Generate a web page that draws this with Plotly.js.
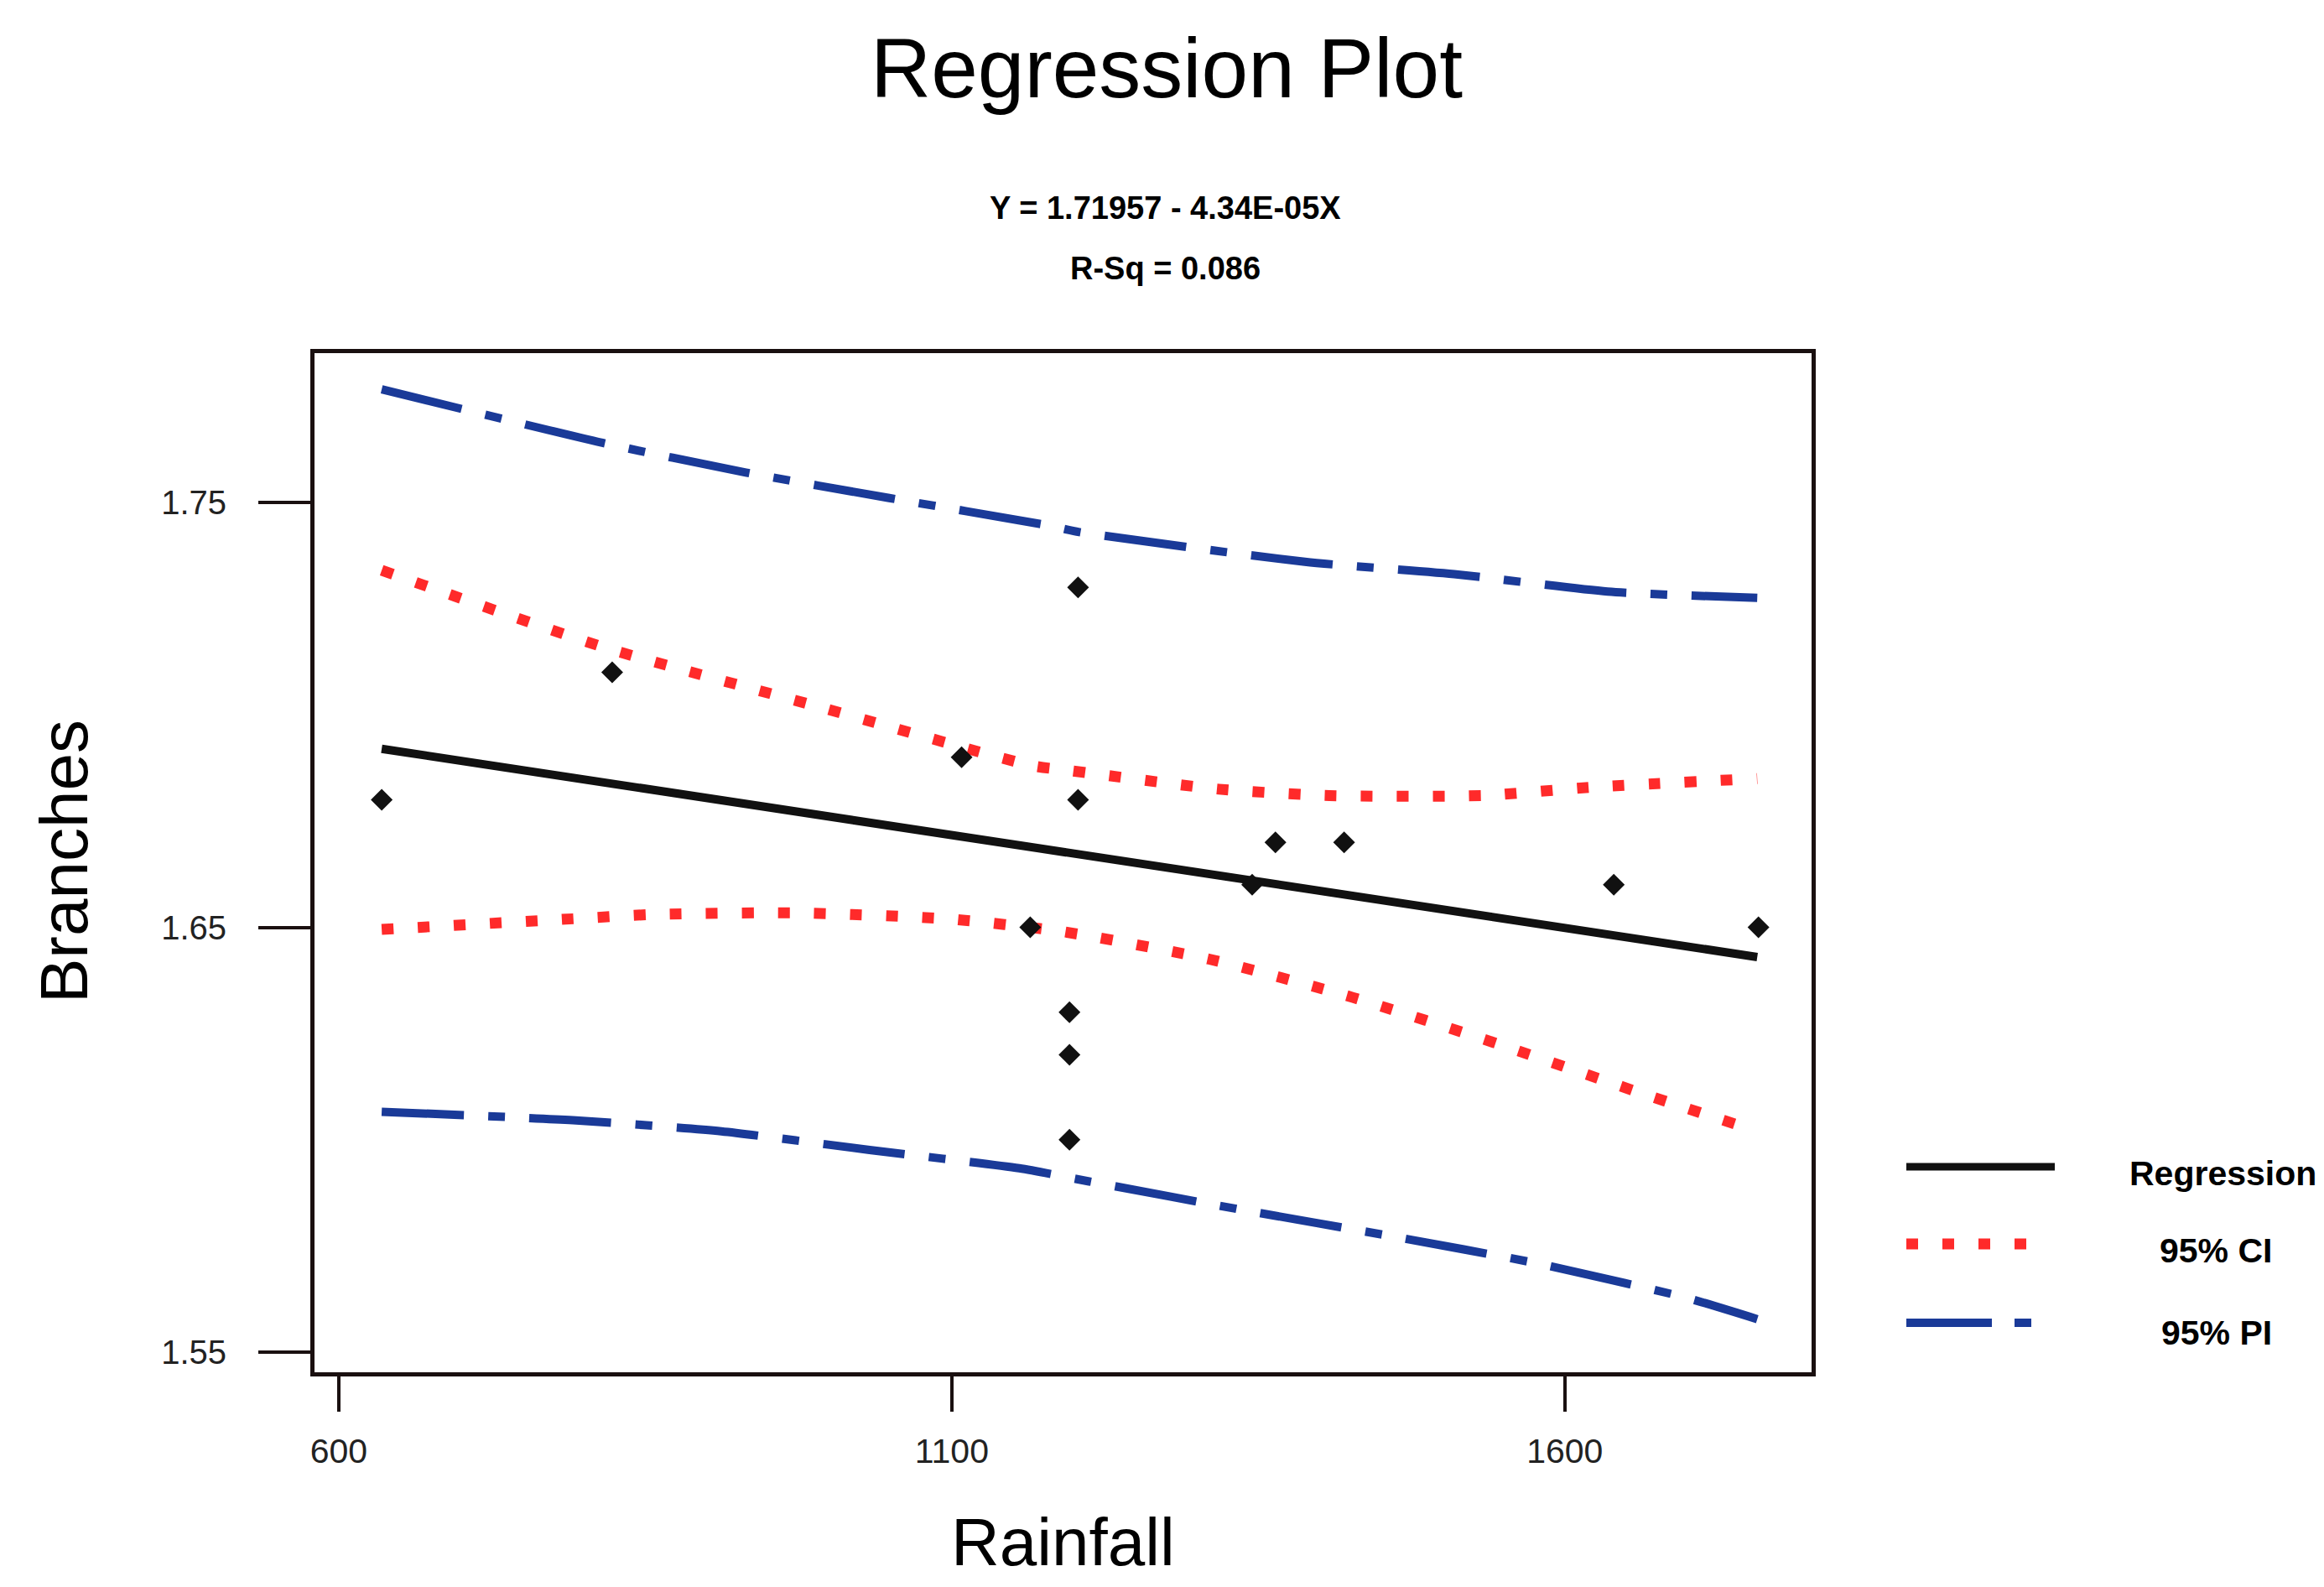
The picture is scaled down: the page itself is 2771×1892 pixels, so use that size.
<!DOCTYPE html>
<html>
<head>
<meta charset="utf-8">
<script src="https://cdn.plot.ly/plotly-3.0.1.min.js"></script>
<style>
  html, body { margin: 0; padding: 0; background: #ffffff; }
  #chart { width: 2771px; height: 1892px; }
</style>
</head>
<body>
<div id="chart"></div>
<script>
// ---- data ----
const rainfall = [635, 823, 1108, 1164, 1196, 1196, 1196, 1203, 1203, 1345, 1364, 1420, 1640, 1758];
const branches = [1.68, 1.71, 1.69, 1.65, 1.63, 1.62, 1.60, 1.73, 1.68, 1.66, 1.67, 1.67, 1.66, 1.65];

const regX = [635, 1757];
const regY = [1.692, 1.643];

const ciUpperX = [635, 815, 990, 1166, 1193, 1318, 1408, 1533, 1623, 1757];
const ciUpperY = [1.734, 1.716, 1.702, 1.688, 1.687, 1.6825, 1.681, 1.681, 1.683, 1.685];

const ciLowerX = [635, 791, 854, 971, 1096, 1190, 1310, 1427, 1545, 1662, 1757];
const ciLowerY = [1.6495, 1.652, 1.653, 1.6534, 1.652, 1.649, 1.6425, 1.6335, 1.6226, 1.611, 1.602];

const piUpperX = [635, 815, 932, 1049, 1178, 1204, 1388, 1513, 1635, 1757];
const piUpperY = [1.7766, 1.764, 1.757, 1.751, 1.7446, 1.743, 1.736, 1.733, 1.729, 1.7275];

const piLowerX = [635, 791, 912, 1033, 1155, 1212, 1337, 1459, 1576, 1697, 1757];
const piLowerY = [1.6066, 1.6046, 1.602, 1.5976, 1.5933, 1.5902, 1.5835, 1.5773, 1.571, 1.563, 1.5578];

const xTickVals = [600, 1100, 1600];
const xTickText = ['600', '1100', '1600'];
const yTickVals = [1.55, 1.65, 1.75];
const yTickText = ['1.55', '1.65', '1.75'];

const legendLabels = ['Regression', '95% CI', '95% PI'];

// ---- styles ----
const FONT = 'Liberation Sans, Arial, sans-serif';
const BLACK = '#111111';
const RED = '#ff2a2a';
const BLUE = '#1a3a98';
const CI_DASH = '14px,29px';
const PI_DASH = '98px,29px,20px,29px';

const traces = [
  { x: piUpperX, y: piUpperY, mode: 'lines', line: { color: BLUE, width: 10, dash: PI_DASH, shape: 'spline', smoothing: 0.6 }, hoverinfo: 'skip' },
  { x: piLowerX, y: piLowerY, mode: 'lines', line: { color: BLUE, width: 10, dash: PI_DASH, shape: 'spline', smoothing: 0.6 }, hoverinfo: 'skip' },
  { x: ciUpperX, y: ciUpperY, mode: 'lines', line: { color: RED, width: 13, dash: CI_DASH, shape: 'spline', smoothing: 0.6 }, hoverinfo: 'skip' },
  { x: ciLowerX, y: ciLowerY, mode: 'lines', line: { color: RED, width: 13, dash: CI_DASH, shape: 'spline', smoothing: 0.6 }, hoverinfo: 'skip' },
  { x: regX, y: regY, mode: 'lines', line: { color: BLACK, width: 10 }, hoverinfo: 'skip' },
  { x: rainfall, y: branches, mode: 'markers', marker: { symbol: 'diamond', size: 20, color: BLACK }, hoverinfo: 'skip' }
];

// plot area in pixels
const W = 2771, H = 1892;
const L = 375, R = 2160, T = 421, B = 1636;
const px = v => (v - L) / (R - L);
const py = v => (B - v) / (B - T);

const legendRows = [1391, 1483, 1577];

const shapes = [
  { type: 'line', xref: 'paper', yref: 'paper', x0: px(2273), x1: px(2450), y0: py(legendRows[0]), y1: py(legendRows[0]), line: { color: BLACK, width: 9 } },
  { type: 'line', xref: 'paper', yref: 'paper', x0: px(2273), x1: px(2423), y0: py(legendRows[1]), y1: py(legendRows[1]), line: { color: RED, width: 13, dash: CI_DASH } },
  { type: 'line', xref: 'paper', yref: 'paper', x0: px(2273), x1: px(2423), y0: py(legendRows[2]), y1: py(legendRows[2]), line: { color: BLUE, width: 10, dash: '102px,27px,20px,27px' } }
];

const annotations = [
  { text: 'Regression Plot', xref: 'paper', yref: 'paper', x: px(1391), y: py(81), xanchor: 'center', yanchor: 'middle', showarrow: false, font: { family: FONT, size: 100, color: '#000' } },
  { text: '<b>Y = 1.71957 - 4.34E-05X</b>', xref: 'paper', yref: 'paper', x: px(1389), y: py(248), xanchor: 'center', yanchor: 'middle', showarrow: false, font: { family: FONT, size: 38, color: '#000' } },
  { text: '<b>R-Sq = 0.086</b>', xref: 'paper', yref: 'paper', x: px(1389), y: py(320), xanchor: 'center', yanchor: 'middle', showarrow: false, font: { family: FONT, size: 38, color: '#000' } },
  { text: 'Branches', xref: 'paper', yref: 'paper', x: px(76), y: py(1027), xanchor: 'center', yanchor: 'middle', textangle: -90, showarrow: false, font: { family: FONT, size: 80, color: '#000' } },
  { text: 'Rainfall', xref: 'paper', yref: 'paper', x: px(1267), y: py(1838), xanchor: 'center', yanchor: 'middle', showarrow: false, font: { family: FONT, size: 80, color: '#000' } },
  { text: '<b>' + legendLabels[0] + '</b>', xref: 'paper', yref: 'paper', x: px(2650), y: py(legendRows[0] + 8), xanchor: 'center', yanchor: 'middle', showarrow: false, font: { family: FONT, size: 41, color: '#000' } },
  { text: '<b>' + legendLabels[1] + '</b>', xref: 'paper', yref: 'paper', x: px(2642), y: py(legendRows[1] + 8), xanchor: 'center', yanchor: 'middle', showarrow: false, font: { family: FONT, size: 41, color: '#000' } },
  { text: '<b>' + legendLabels[2] + '</b>', xref: 'paper', yref: 'paper', x: px(2643), y: py(legendRows[2] + 12), xanchor: 'center', yanchor: 'middle', showarrow: false, font: { family: FONT, size: 41, color: '#000' } }
];

const layout = {
  width: W, height: H,
  margin: { l: L, r: W - R, t: T, b: H - B, pad: 0 },
  paper_bgcolor: '#ffffff',
  plot_bgcolor: '#ffffff',
  showlegend: false,
  hovermode: false,
  xaxis: {
    range: [580.2, 1801.3],
    tickmode: 'array', tickvals: xTickVals, ticktext: xTickText,
    ticks: 'outside', ticklen: 42, tickwidth: 4, tickcolor: '#1a1010',
    ticklabelstandoff: 12,
    showgrid: false, zeroline: false,
    showline: true, linecolor: '#1a1010', linewidth: 5, mirror: true,
    tickfont: { family: FONT, size: 41, color: '#222' }
  },
  yaxis: {
    range: [1.5453, 1.7851],
    tickmode: 'array', tickvals: yTickVals, ticktext: yTickText,
    ticks: 'outside', ticklen: 62, tickwidth: 4, tickcolor: '#1a1010',
    ticklabelstandoff: 30,
    showgrid: false, zeroline: false,
    showline: true, linecolor: '#1a1010', linewidth: 5, mirror: true,
    tickfont: { family: FONT, size: 40, color: '#222' }
  },
  shapes: shapes,
  annotations: annotations
};

Plotly.newPlot('chart', traces, layout, { staticPlot: true, displayModeBar: false });
</script>
</body>
</html>
